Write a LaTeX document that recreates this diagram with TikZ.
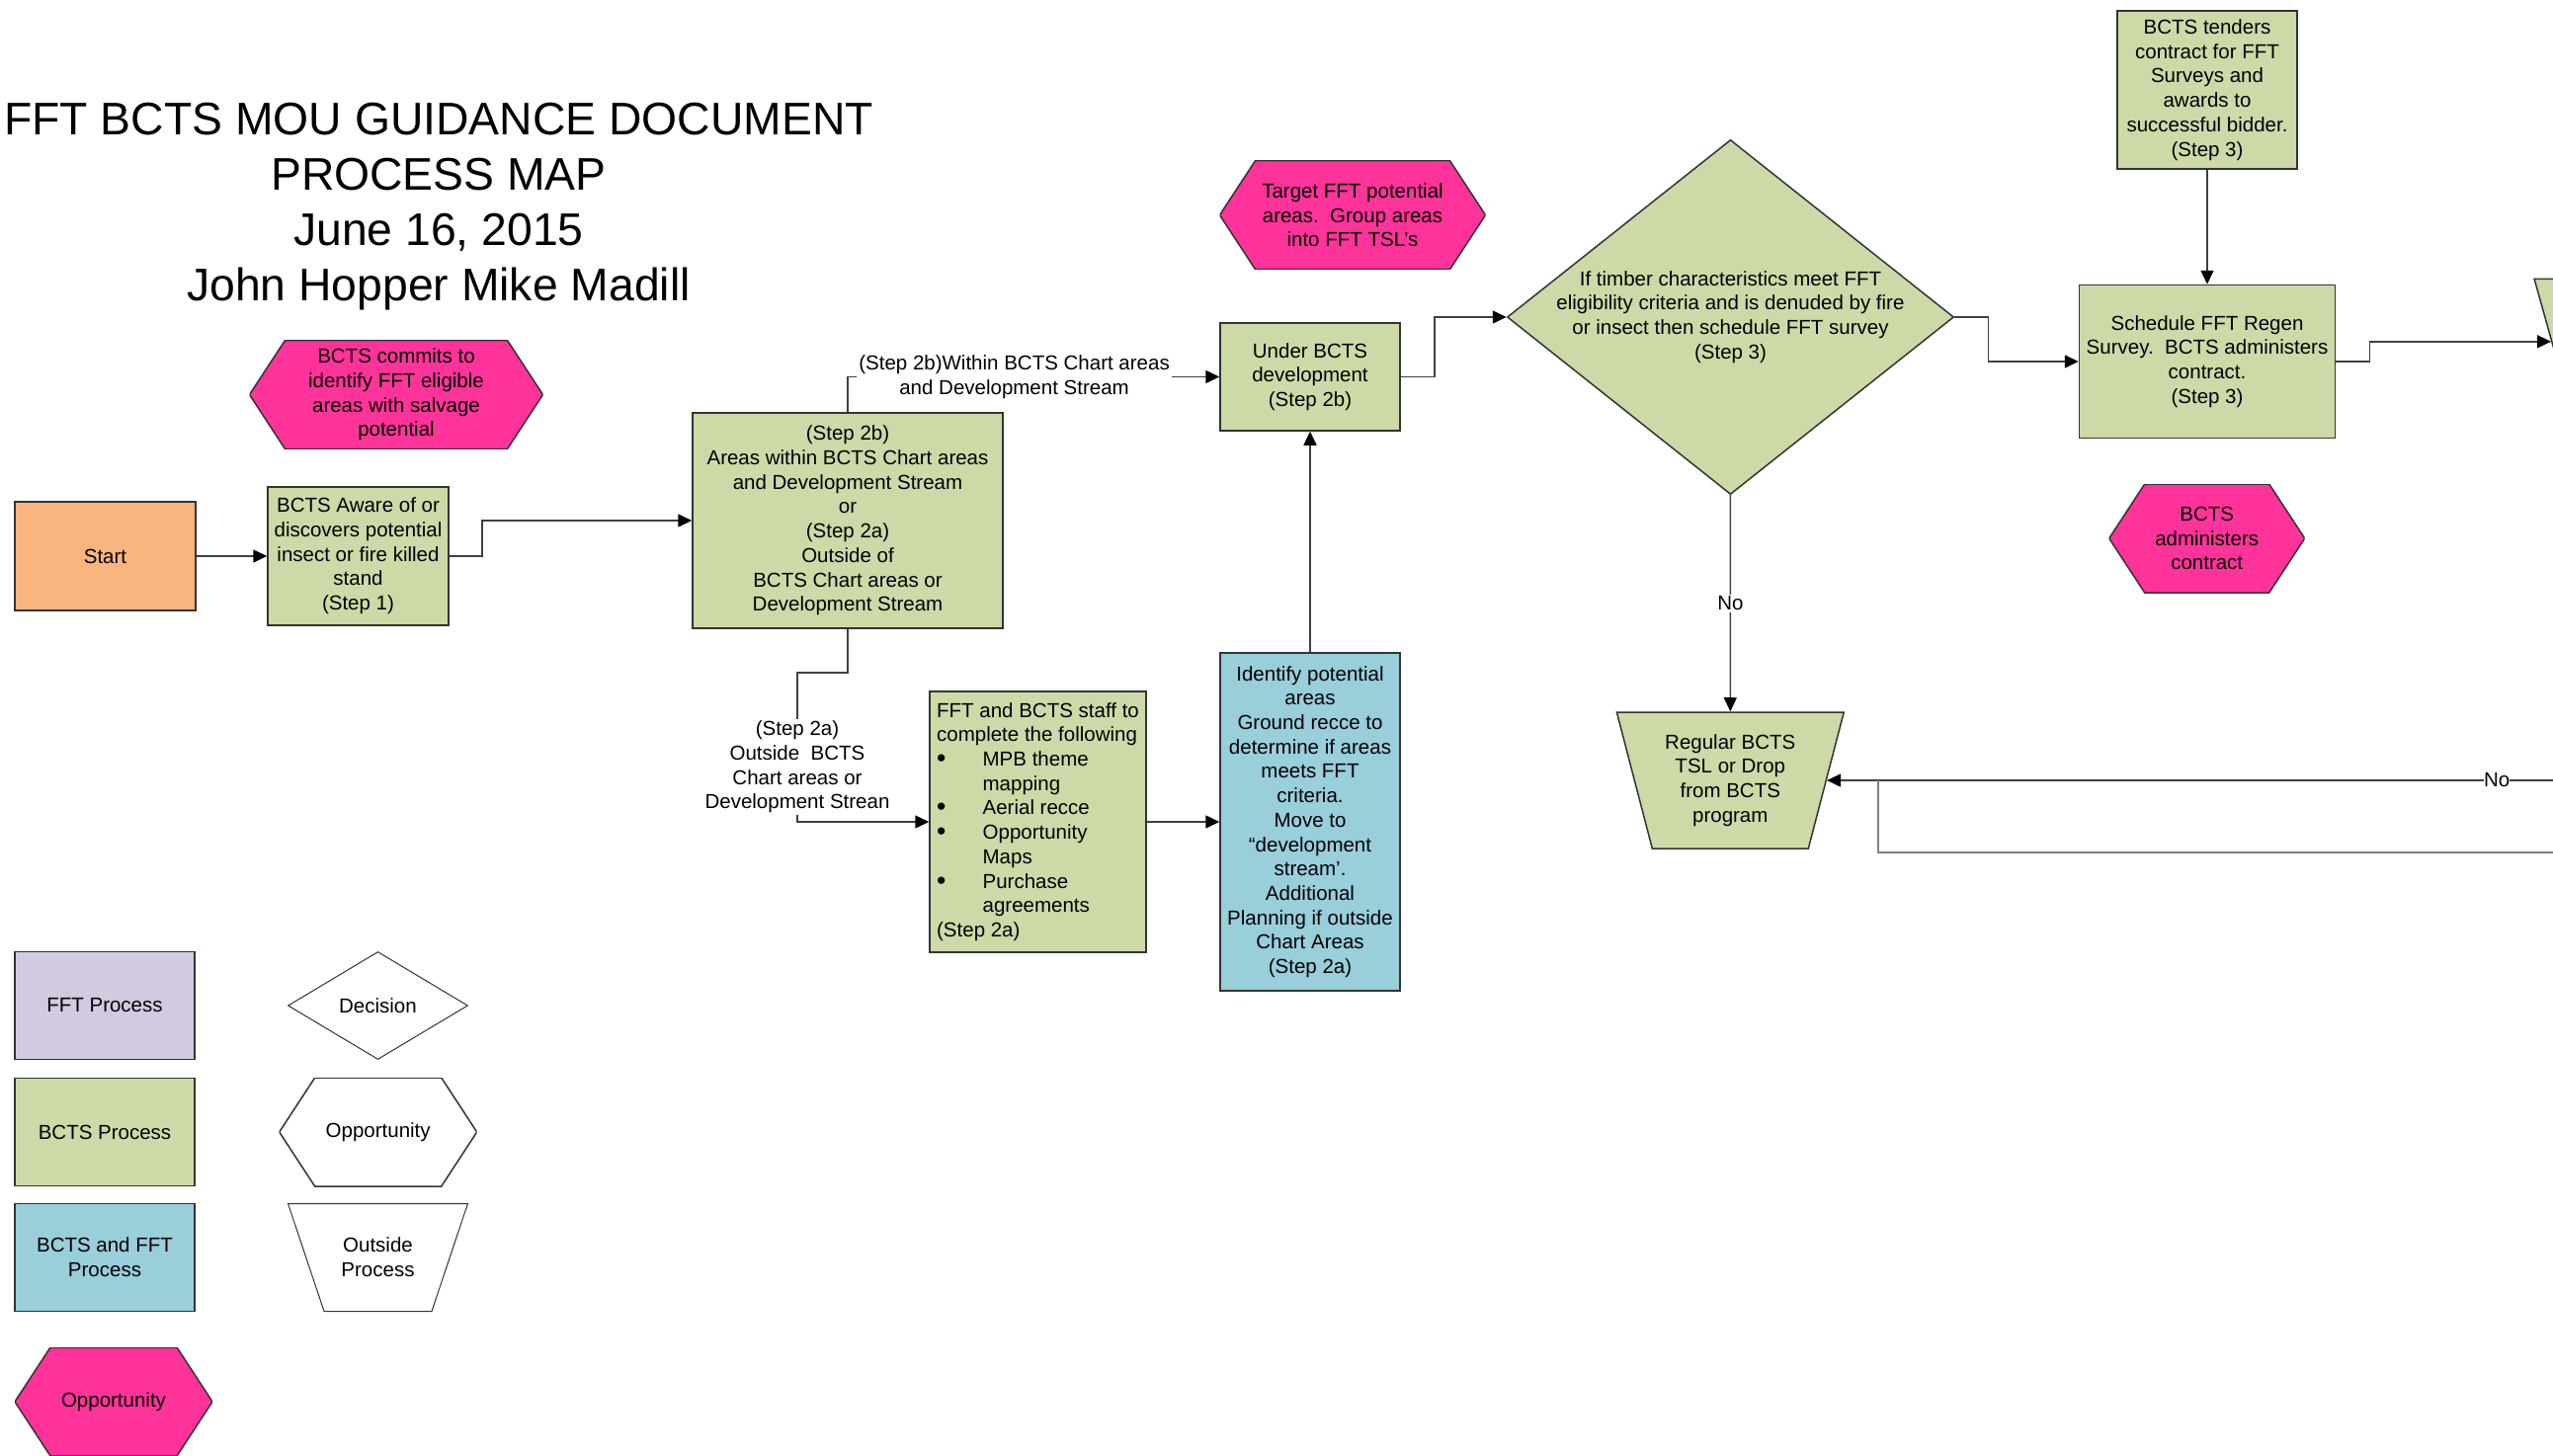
\documentclass[tikz,border=0pt]{standalone}
\usepackage{fontspec}
\setmainfont{Liberation Sans}
\usepackage{xcolor}
\usepackage{tikz}
\usetikzlibrary{positioning, shapes, shapes.geometric, calc, arrows.meta}

\definecolor{bctsgreen}{RGB}{204,218,168}
\definecolor{bothblue}{RGB}{153,206,219}
\definecolor{fftpurple}{RGB}{210,202,224}
\definecolor{opppink}{RGB}{255,51,153}
\definecolor{startorange}{RGB}{249,181,126}

\newcommand{\bitem}[1]{\makebox[46.5pt][l]{\raisebox{-1pt}{\scalebox{1.3}{\textbullet}}}#1}
\newcommand{\bmore}[1]{\hspace*{46.5pt}#1}

\begin{document}
\begin{tikzpicture}[x=1pt, y=-1pt,
	every node/.style={font=\fontsize{20.5}{24.7}\selectfont, inner sep=0pt, align=center},
	box/.style={draw=black!80, line width=1.5pt, fill=#1, minimum width=182pt, minimum height=109pt},
	hexa/.style={minimum height=110pt,
		path picture={\filldraw[fill=#1, draw=black!80, line width=1.5pt]
			(path picture bounding box.west) -- ([xshift=36pt]path picture bounding box.north west)
			-- ([xshift=-36pt]path picture bounding box.north east) -- (path picture bounding box.east)
			-- ([xshift=-36pt]path picture bounding box.south east) -- ([xshift=36pt]path picture bounding box.south west) -- cycle;}},
	decide/.style={diamond, draw=black!80, line width=1.5pt, fill=#1},
	outside/.style={trapezium, shape border rotate=180, trapezium left angle=#1, trapezium right angle=#1, draw=black!80, line width=1.5pt},
	conn/.style={draw=black!75, line width=1.5pt, -{Triangle[length=14pt, width=13pt, color=black]}},
	conn2/.style={draw=black!50, line width=2pt},
	lbl/.style={fill=white, inner sep=2pt}]
	
	\useasboundingbox (0,0) rectangle (2584,1473);
	\clip (0,0) rectangle (2584,1473);
	
	%//title
	\node [font=\fontsize{46.3}{56}\selectfont] (title) at (444,209) {FFT BCTS MOU GUIDANCE DOCUMENT\\PROCESS MAP\\June 16, 2015\\John Hopper Mike Madill};
	
	%//steps 1 and 2
	\node [box=startorange, minimum width=183pt, minimum height=110pt] (start) at (106.5,563) {Start};
	\node [box=bctsgreen, minimum width=183pt, minimum height=140pt] (s1) at (362.5,563) {BCTS Aware of or\\discovers potential\\insect or fire killed\\stand\\(Step 1)};
	\node [hexa=opppink, minimum width=297pt] (commit) at (401,399.5) {BCTS commits to\\identify FFT eligible\\areas with salvage\\potential};
	\node [box=bctsgreen, minimum width=314pt, minimum height=218pt] (s2) at (858,527) {(Step 2b)\\Areas within BCTS Chart areas\\and Development Stream\\or\\(Step 2a)\\Outside of\\BCTS Chart areas or\\Development Stream};
	\node [box=bctsgreen] (under) at (1326,381.5) {Under BCTS\\development\\(Step 2b)};
	\node [box=bctsgreen, minimum width=219pt, minimum height=264pt, align=left] (staff) at (1050.5,832) {FFT and BCTS staff to\\complete the following\\\bitem{MPB theme}\\\bmore{mapping}\\\bitem{Aerial recce}\\\bitem{Opportunity}\\\bmore{Maps}\\\bitem{Purchase}\\\bmore{agreements}\\(Step 2a)};
	\node [box=bothblue, minimum height=342pt] (ident) at (1326,832) {Identify potential\\areas\\Ground recce to\\determine if areas\\meets FFT\\criteria.\\Move to\\“development\\stream’.\\Additional\\Planning if outside\\Chart Areas\\(Step 2a)};
	\node [hexa=opppink, minimum width=269pt] (target) at (1369,217.7) {Target FFT potential\\areas.\ \ Group areas\\into FFT TSL’s};
	
	%//step 3
	\node [decide=bctsgreen, minimum width=452pt, minimum height=359pt] (dec) at (1751.5,321) {};
	\node (dectxt) at (dec.center) {If timber characteristics meet FFT\\eligibility criteria and is denuded by fire\\or insect then schedule FFT survey\\(Step 3)};
	\node [box=bctsgreen, minimum height=160pt] (tender) at (2234,91) {BCTS tenders\\contract for FFT\\Surveys and\\awards to\\successful bidder.\\(Step 3)};
	\node [box=bctsgreen, minimum width=259pt, minimum height=155pt] (sched) at (2234,366) {Schedule FFT Regen\\Survey.\ \ BCTS administers\\contract.\\(Step 3)};
	\node [hexa=opppink, minimum width=198pt] (admin) at (2233.7,545) {BCTS\\administers\\contract};
	\node [outside=75.4, fill=bctsgreen, inner xsep=79pt, inner ysep=69pt] (reg) at (1751.3,790) {};
	\node (regtxt) at (reg.center) {Regular BCTS\\TSL or Drop\\from BCTS\\program};
	\node [outside=74.4, fill=bctsgreen, inner xsep=97pt, inner ysep=63.5pt] (rtrap) at (2697.5,345.8) {};
	
	%//connectors
	\draw [conn] (start) -- (s1);
	\draw [conn] (s1.east) -- ++(33,0) |- (s2);
	\draw [conn] (s2.north) |- (under) node [lbl, pos=0.724] {(Step 2b)Within BCTS Chart areas\\and Development Stream};
	\draw [conn] (s2.south) -- ++(0,44) -- ++(-51,0) |- (staff) node [lbl, pos=0.316] {(Step 2a)\\Outside\ \ BCTS\\Chart areas or\\Development Strean};
	\draw [conn] (staff) -- (ident);
	\draw [conn] (ident) -- (under);
	\draw [conn] (under.east) -- ++(34,0) |- (dec);
	\draw [conn] (dec.east) -- ++(34,0) |- (sched);
	\draw [conn] (tender) -- (sched);
	\draw [conn] (sched.east) -- ++(34,0) |- (rtrap);
	\draw [conn] (dec) -- (reg) node [lbl, midway] {No};
	
	\coordinate (offA) at (2600,790);
	\coordinate (offB) at (2600,862.7);
	\coordinate (merge) at (1901,790);
	\draw [conn] (offA) -- (reg) node [lbl, inner sep=0pt, pos=0.097] {No};
	\draw [conn2] (offB) -| (merge);
	
	%//legend
	\foreach \y/\col/\txt/\nm in {1018/fftpurple/FFT Process/fft, 1146/bctsgreen/BCTS Process/bcts, 1273/bothblue/BCTS and FFT\\Process/both}
	\node [box=\col, line width=1.2pt] (key-\nm) at (106,\y) {\txt};
	
	\node [decide=white, line width=1pt, aspect=1.67, minimum width=182pt, minimum height=109pt] (key-dec) at (382.5,1018) {Decision};
	\node [hexa=white, minimum width=200pt] (key-opp) at (382.7,1146) {Opportunity};
	\node [outside=71.5, fill=white, line width=1pt, inner xsep=54.5pt, inner ysep=54.5pt] (key-out) at (382.5,1273) {};
	\node (key-outtxt) at (key-out.center) {Outside\\Process};
	\node [hexa=opppink, minimum width=200pt] (key-pink) at (115,1419) {Opportunity};
	
\end{tikzpicture}
\end{document}
